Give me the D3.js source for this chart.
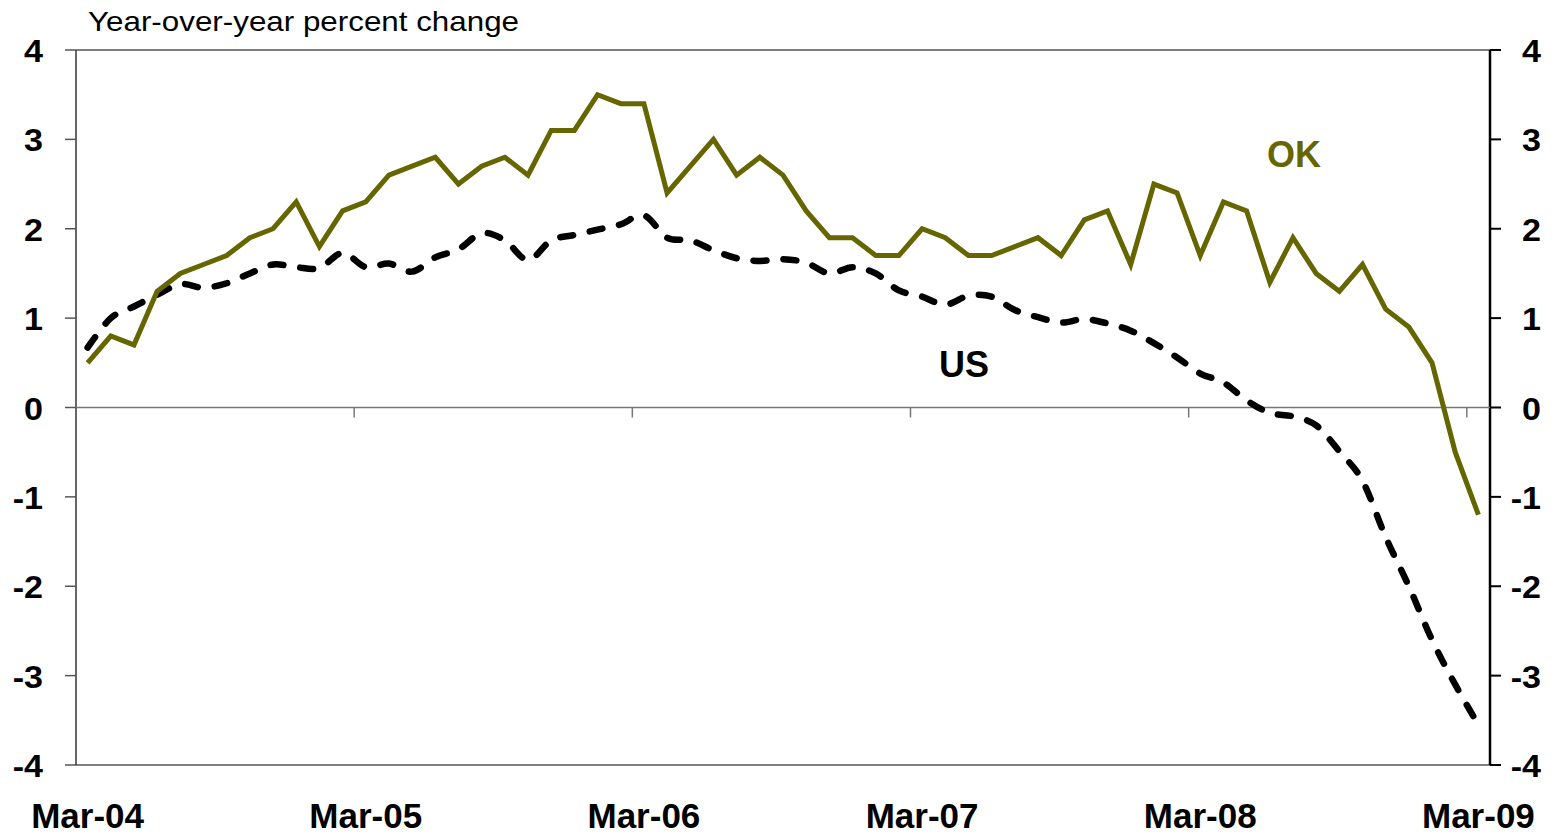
<!DOCTYPE html>
<html>
<head>
<meta charset="utf-8">
<script src="https://cdn.jsdelivr.net/npm/d3@7"></script>
<style>
  body { margin: 0; background: #fff; }
  svg { display: block; font-family: "Liberation Sans", Arial, sans-serif; }
</style>
</head>
<body>
<div id="chart"></div>
<script>
// months Mar-04 .. Mar-09
const months = [
  "Mar-04","Apr-04","May-04","Jun-04","Jul-04","Aug-04","Sep-04","Oct-04","Nov-04","Dec-04","Jan-05","Feb-05",
  "Mar-05","Apr-05","May-05","Jun-05","Jul-05","Aug-05","Sep-05","Oct-05","Nov-05","Dec-05","Jan-06","Feb-06",
  "Mar-06","Apr-06","May-06","Jun-06","Jul-06","Aug-06","Sep-06","Oct-06","Nov-06","Dec-06","Jan-07","Feb-07",
  "Mar-07","Apr-07","May-07","Jun-07","Jul-07","Aug-07","Sep-07","Oct-07","Nov-07","Dec-07","Jan-08","Feb-08",
  "Mar-08","Apr-08","May-08","Jun-08","Jul-08","Aug-08","Sep-08","Oct-08","Nov-08","Dec-08","Jan-09","Feb-09",
  "Mar-09"
];

const okValues = [
  0.5, 0.8, 0.7, 1.3, 1.5, 1.6, 1.7, 1.9, 2.0, 2.3, 1.8, 2.2,
  2.3, 2.6, 2.7, 2.8, 2.5, 2.7, 2.8, 2.6, 3.1, 3.1, 3.5, 3.4,
  3.4, 2.4, 2.7, 3.0, 2.6, 2.8, 2.6, 2.2, 1.9, 1.9, 1.7, 1.7,
  2.0, 1.9, 1.7, 1.7, 1.8, 1.9, 1.7, 2.1, 2.2, 1.6, 2.5, 2.4,
  1.7, 2.3, 2.2, 1.4, 1.9, 1.5, 1.3, 1.6, 1.1, 0.9, 0.5, -0.5,
  -1.2
];

const usValues = [
  0.67, 1.0, 1.13, 1.26, 1.38, 1.34, 1.39, 1.50, 1.60, 1.57, 1.56, 1.73,
  1.57, 1.61, 1.52, 1.68, 1.77, 1.95, 1.87, 1.65, 1.87, 1.93, 1.99, 2.05,
  2.15, 1.90, 1.87, 1.76, 1.67, 1.64, 1.66, 1.62, 1.50, 1.57, 1.50, 1.31,
  1.24, 1.15, 1.25, 1.24, 1.09, 1.01, 0.95, 0.99, 0.94, 0.86, 0.72, 0.56,
  0.38, 0.28, 0.08, -0.06, -0.10, -0.20, -0.49, -0.82, -1.45, -2.0, -2.6, -3.1,
  -3.55
];

const yTicks = [4, 3, 2, 1, 0, -1, -2, -3, -4];
const xLabels = ["Mar-04", "Mar-05", "Mar-06", "Mar-07", "Mar-08", "Mar-09"];

const W = 1561, H = 834;
const plotL = 76, plotR = 1490, plotT = 50, plotB = 765;

const svg = d3.select("#chart").append("svg")
  .attr("width", W)
  .attr("height", H);

const x = d3.scaleBand().domain(months).range([plotL, plotR]);
const y = d3.scaleLinear().domain([-4, 4]).range([plotB, plotT]);
const cx = d => x(d) + x.bandwidth() / 2;

// plot frame (top & bottom edges)
svg.append("line").attr("x1", plotL).attr("x2", plotR).attr("y1", y(4)).attr("y2", y(4))
  .attr("stroke", "#555").attr("stroke-width", 1.5);
svg.append("line").attr("x1", plotL).attr("x2", plotR).attr("y1", y(-4)).attr("y2", y(-4))
  .attr("stroke", "#555").attr("stroke-width", 1.5);

// left axis
svg.append("line").attr("x1", plotL).attr("x2", plotL).attr("y1", plotT).attr("y2", plotB)
  .attr("stroke", "#333").attr("stroke-width", 1.5);
svg.selectAll(".ltick").data(yTicks).join("line")
  .attr("x1", plotL - 11).attr("x2", plotL)
  .attr("y1", d => y(d)).attr("y2", d => y(d))
  .attr("stroke", "#555").attr("stroke-width", 1.5);
svg.selectAll(".llab").data(yTicks).join("text")
  .attr("transform", d => `translate(43,${y(d) + 12}) scale(1.1,1)`)
  .attr("text-anchor", "end")
  .attr("font-size", 31).attr("font-weight", "bold")
  .text(d => d);

// right axis
svg.append("line").attr("x1", plotR).attr("x2", plotR).attr("y1", plotT).attr("y2", plotB)
  .attr("stroke", "#000").attr("stroke-width", 2.5);
svg.selectAll(".rtick").data(yTicks).join("line")
  .attr("x1", plotR).attr("x2", plotR + 11)
  .attr("y1", d => y(d)).attr("y2", d => y(d))
  .attr("stroke", "#000").attr("stroke-width", 2);
svg.selectAll(".rlab").data(yTicks).join("text")
  .attr("transform", d => `translate(1541,${y(d) + 12}) scale(1.1,1)`)
  .attr("text-anchor", "end")
  .attr("font-size", 31).attr("font-weight", "bold")
  .text(d => d);

// zero line with year ticks
svg.append("line").attr("x1", plotL).attr("x2", plotR).attr("y1", y(0)).attr("y2", y(0))
  .attr("stroke", "#777").attr("stroke-width", 1.5);
svg.selectAll(".xtick").data(xLabels.slice(1)).join("line")
  .attr("x1", d => x(d)).attr("x2", d => x(d))
  .attr("y1", y(0)).attr("y2", y(0) + 10)
  .attr("stroke", "#777").attr("stroke-width", 1.5);

// x labels
svg.selectAll(".xlab").data(xLabels).join("text")
  .attr("x", d => cx(d)).attr("y", 828)
  .attr("text-anchor", "middle")
  .attr("font-size", 35).attr("font-weight", "bold")
  .text(d => d);

// title
svg.append("text")
  .attr("transform", "translate(88,31) scale(1.12,1)")
  .attr("font-size", 28)
  .text("Year-over-year percent change");

// US dashed smooth line
const usLine = d3.line()
  .x((d, i) => cx(months[i]))
  .y(d => y(d))
  .curve(d3.curveCatmullRom.alpha(0));
svg.append("path").datum(usValues)
  .attr("d", usLine)
  .attr("fill", "none")
  .attr("stroke", "#000")
  .attr("stroke-width", 6.5)
  .attr("stroke-linecap", "round")
  .attr("stroke-dasharray", "13,17");

// OK line
const okLine = d3.line()
  .x((d, i) => cx(months[i]))
  .y(d => y(d));
svg.append("path").datum(okValues)
  .attr("d", okLine)
  .attr("fill", "none")
  .attr("stroke", "#666600")
  .attr("stroke-width", 5)
  .attr("stroke-linejoin", "miter");

// series labels
svg.append("text").attr("x", 1294).attr("y", 167)
  .attr("text-anchor", "middle")
  .attr("font-size", 36).attr("font-weight", "bold")
  .attr("fill", "#666600").text("OK");
svg.append("text").attr("x", 964).attr("y", 377)
  .attr("text-anchor", "middle")
  .attr("font-size", 36).attr("font-weight", "bold")
  .attr("fill", "#000").text("US");
</script>
</body>
</html>
